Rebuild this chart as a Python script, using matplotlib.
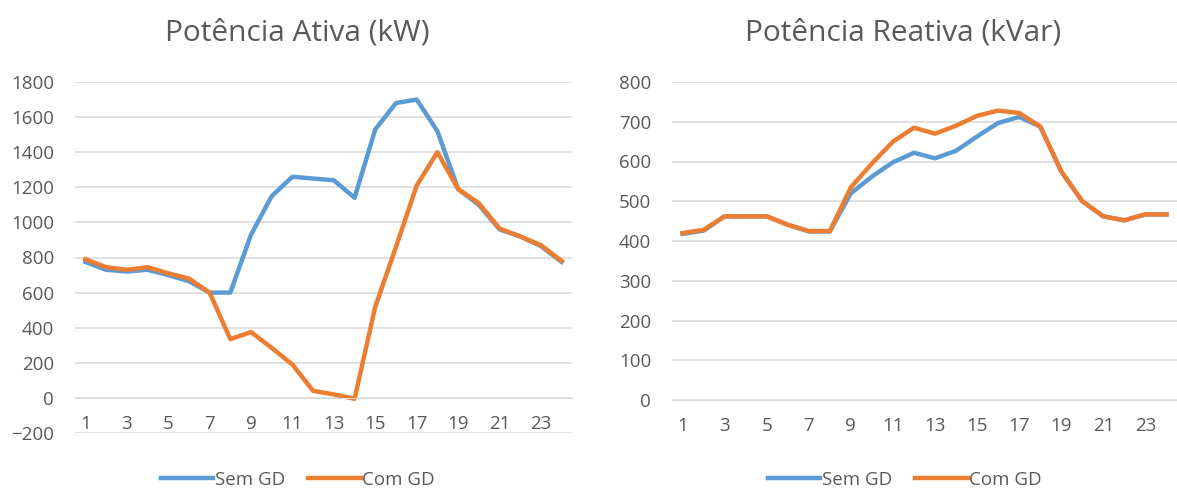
import matplotlib
matplotlib.use("Agg")
import matplotlib.pyplot as plt
import numpy as np

# Dados (horas do dia)
horas = list(range(1, 25))

ativa_sem_gd = [775, 730, 720, 730, 700, 665, 600, 600, 930, 1150, 1260, 1250,
                1240, 1140, 1530, 1680, 1700, 1520, 1190, 1100, 960, 920, 865, 775]
ativa_com_gd = [790, 745, 730, 745, 710, 680, 600, 335, 375, 285, 190, 40,
                20, -5, 520, 860, 1210, 1400, 1190, 1110, 965, 920, 870, 780]

reativa_sem_gd = [418, 426, 462, 462, 462, 441, 424, 424, 520, 562, 598, 622,
                  608, 627, 663, 697, 712, 688, 575, 500, 462, 452, 467, 467]
reativa_com_gd = [420, 428, 462, 462, 462, 441, 425, 425, 535, 595, 650, 685,
                  670, 690, 715, 728, 722, 688, 575, 500, 462, 452, 467, 467]

xticks_mostrados = list(range(1, 25, 2))

azul = '#5b9bd5'
laranja = '#ed7d31'
cinza = '#595959'
grade = '#d9d9d9'

plt.rcParams['font.family'] = ['Open Sans', 'DejaVu Sans']

W, H = 1177, 491
fig = plt.figure(figsize=(W / 100, H / 100), dpi=100)


def montar(ax, sem, com, ylim, ystep, titulo, cx):
    ax.plot(horas, sem, color=azul, lw=3.2, label='Sem GD', solid_joinstyle='round')
    ax.plot(horas, com, color=laranja, lw=3.2, label='Com GD', solid_joinstyle='round')
    ax.set_xlim(0.5, 24.5)
    ax.set_ylim(*ylim)
    ax.set_yticks(np.arange(ylim[0], ylim[1] + 1, ystep))
    ax.set_xticks(xticks_mostrados)
    ax.grid(axis='y', color=grade, lw=1.1)
    ax.set_axisbelow(True)
    for s in ['top', 'right', 'left']:
        ax.spines[s].set_visible(False)
    ax.spines['bottom'].set_position(('data', 0))
    ax.spines['bottom'].set_color(grade)
    ax.tick_params(axis='x', length=0, pad=12, labelsize=13.5, labelcolor=cinza)
    ax.tick_params(axis='y', length=0, pad=15, labelsize=13.5, labelcolor=cinza)
    fig.text(cx / W, 1 - 33 / H, titulo, ha='center', va='center',
             fontsize=21.5, color=cinza)
    return ax


ax1 = fig.add_axes([75 / W, (H - 433) / H, 497 / W, 351 / H])
montar(ax1, ativa_sem_gd, ativa_com_gd, (-200, 1800), 200,
       'Potência Ativa (kW)', 297)

ax2 = fig.add_axes([672 / W, (H - 400) / H, 505 / W, 318 / H])
montar(ax2, reativa_sem_gd, reativa_com_gd, (0, 800), 100,
       'Potência Reativa (kVar)', 903)

for ax, cx in [(ax1, 298), (ax2, 905)]:
    ax.legend(loc='center', bbox_to_anchor=(cx / W, 1 - 480 / H),
              bbox_transform=fig.transFigure, ncol=2, frameon=False,
              fontsize=13.5, handlelength=2.8, handletextpad=0.1,
              columnspacing=1.2, labelcolor=cinza)

fig.savefig('out.png', dpi=100)
